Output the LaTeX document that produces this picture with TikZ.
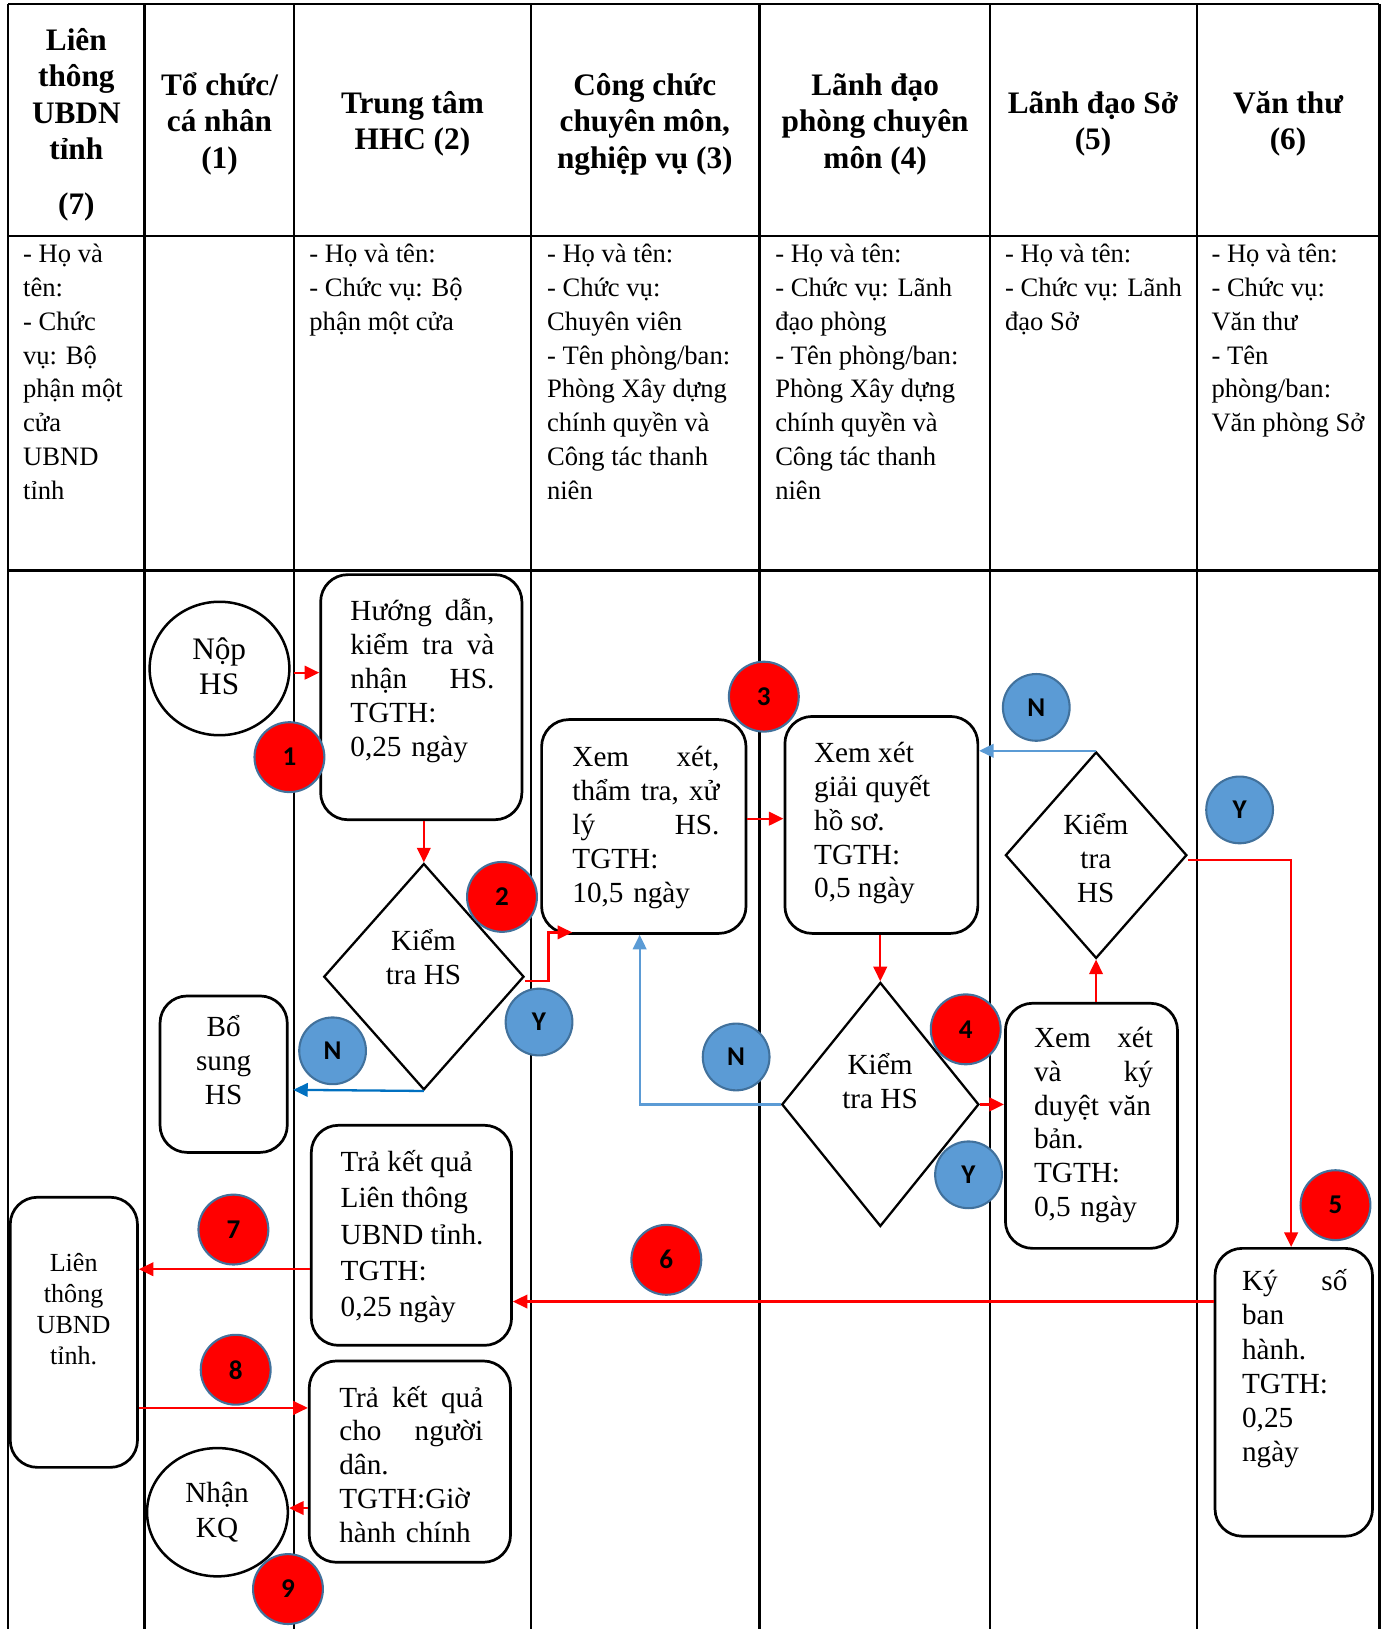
\documentclass[tikz,border=0pt]{standalone}
\usepackage{fontspec}
\setmainfont{Liberation Serif}
\newfontfamily\numfont{Carlito}
\usetikzlibrary{shapes.geometric,arrows.meta}
\definecolor{cblue}{HTML}{5B9BD5}
\definecolor{cborder}{HTML}{41719C}
\definecolor{dblue}{HTML}{0070C0}
\begin{document}
\begin{tikzpicture}[x=1pt,y=-1pt,
  tline/.style={line width=2.2pt,black},
  fbox/.style={draw,fill=white,line width=2.6pt,rounded corners=26pt,inner sep=0pt},
  dia/.style={draw,fill=white,diamond,line width=2.2pt,inner sep=0pt},
  ell/.style={draw,fill=white,ellipse,line width=2.4pt,inner sep=0pt},
  redn/.style={circle,fill=red,draw=cborder,line width=2pt,minimum size=67pt,inner sep=0pt,font=\numfont\bfseries\fontsize{26}{26}\selectfont},
  bluen/.style={circle,fill=cblue,draw=cborder,line width=2pt,minimum size=64pt,inner sep=0pt,font=\numfont\bfseries\fontsize{26}{26}\selectfont},
  rarr/.style={draw=red,line width=2.2pt,-{Triangle[length=14pt,width=13pt]}},
  barr/.style={draw=cblue,line width=2.2pt,-{Triangle[length=14pt,width=13pt]}},
  dbarr/.style={draw=dblue,line width=2.2pt,-{Triangle[length=14pt,width=13pt]}},
  htext/.style={font=\fontsize{30}{35}\selectfont\bfseries,align=center,inner sep=0pt},
  btext/.style={font=\fontsize{25.5}{32.4}\selectfont,align=left,inner sep=0pt,anchor=north west},
  ftext/.style={font=\fontsize{28}{32.5}\selectfont,align=left,inner sep=0pt},
  ctext/.style={font=\fontsize{28}{32.5}\selectfont,align=center,inner sep=0pt}]
\useasboundingbox (0,0) rectangle (1330,1562);
\begin{scope}[xshift=1.575pt,xscale=0.99475]
% table
\draw[tline] (6.4,3.8) -- (1328,3.8);
\draw[tline] (6.4,226) -- (1328,226);
\draw[tline] (6.4,547) -- (1328,547);
\foreach \x in {6.4,137.8,281.6,510,730.6,953,1152.5,1328}
  \draw[tline] (\x,3.8) -- (\x,1562);

% header
\node[htext,anchor=north] (h7) at (72,23.5) {\strut Liên\\thông\\UBDN\\tỉnh\\[17pt](7)\strut};
\node[htext] (h1) at (210,119.5) {\strut Tổ chức/\\cá nhân\\(1)\strut};
\node[htext] (h2) at (396,119) {\strut Trung tâm\\HHC (2)\strut};
\node[htext] (h3) at (620,119.5) {\strut Công chức\\chuyên môn,\\nghiệp vụ (3)\strut};
\node[htext] (h4) at (842,119.5) {\strut Lãnh đạo\\phòng chuyên\\môn (4)\strut};
\node[htext] (h5) at (1052,119) {\strut Lãnh đạo Sở\\(5)\strut};
\node[htext] (h6) at (1240,119) {\strut Văn thư\\(6)\strut};

% second row
\node[btext] (r7) at (20.5,229) {\strut - Họ và\\tên:\\- Chức\\vụ: Bộ\\phận một\\cửa\\UBND\\tỉnh\strut};
\node[btext] (r2) at (296.5,229) {\strut - Họ và tên:\\- Chức vụ: Bộ\\phận một cửa\strut};
\node[btext] (r3) at (525.5,229) {\strut - Họ và tên:\\- Chức vụ:\\Chuyên viên\\- Tên phòng/ban:\\Phòng Xây dựng\\chính quyền và\\Công tác thanh\\niên\strut};
\node[btext] (r4) at (745.5,229) {\strut - Họ và tên:\\- Chức vụ: Lãnh\\đạo phòng\\- Tên phòng/ban:\\Phòng Xây dựng\\chính quyền và\\Công tác thanh\\niên\strut};
\node[btext] (r5) at (967,229) {\strut - Họ và tên:\\- Chức vụ: Lãnh\\đạo Sở\strut};
\node[btext] (r6) at (1166,229) {\strut - Họ và tên:\\- Chức vụ:\\Văn thư\\- Tên\\phòng/ban:\\Văn phòng Sở\strut};

% shapes
\node[ell,minimum width=134,minimum height=128] (nop) at (210,641) {};
\node[fbox,minimum width=193,minimum height=235] (b1) at (404.5,668.5) {};
\node[dia,minimum width=192,minimum height=217] (d1) at (407,936.5) {};
\node[fbox,minimum width=122,minimum height=150] (bs) at (214,1030) {};
\node[fbox,minimum width=196,minimum height=205] (b3) at (619,792.5) {};
\node[fbox,minimum width=185,minimum height=208] (b4) at (848,791) {};
\node[dia,minimum width=189,minimum height=234] (d2) at (847,1059) {};
\node[fbox,minimum width=165,minimum height=235] (b5) at (1050.5,1079.5) {};
\node[dia,minimum width=174,minimum height=198] (d3) at (1055,820) {};
\node[fbox,minimum width=151,minimum height=276] (b6) at (1245.5,1335) {};
\node[fbox,minimum width=192,minimum height=211] (b7) at (395,1184.5) {};
\node[fbox,minimum width=122,minimum height=259] (b8) at (69.6,1277.5) {};
\node[fbox,minimum width=193,minimum height=193] (b9) at (393.5,1401.5) {};
\node[ell,minimum width=135,minimum height=123] (nhan) at (208,1450) {};

% texts
\node[ctext,font=\fontsize{30}{34}\selectfont] (tnop) at (209.7,642.4) {\strut Nộp\\HS\strut};
\node[ftext,text width=138,anchor=west] (t1) at (336,653.5) {\strut Hướng\hfill dẫn,\\kiểm\hfill tra\hfill và\\nhận\hfill HS.\\TGTH:\\0,25 ngày\strut};
\node[ctext] (td1) at (406.6,921) {\strut Kiểm\\tra HS\strut};
\node[ctext] (tbs) at (214,1020) {\strut Bổ\\sung\\HS\strut};
\node[ftext,text width=141,anchor=west] (t3) at (550,793.5) {\strut Xem\hfill xét,\\thẩm\hfill tra,\hfill xử\\lý\hfill HS.\\TGTH:\\10,5 ngày\strut};
\node[ftext,anchor=west] (t4) at (783,789.5) {\strut Xem xét\\giải quyết\\hồ sơ.\\TGTH:\\0,5 ngày\strut};
\node[ctext] (td2) at (846.7,1040) {\strut Kiểm\\tra HS\strut};
\node[ftext,font=\fontsize{28}{32.4}\selectfont,text width=114,anchor=west] (t5) at (995,1079) {\strut Xem\hfill xét\\và\hfill ký\\duyệt văn\\bản.\\TGTH:\\0,5 ngày\strut};
\node[ctext] (td3) at (1054.7,826) {\strut Kiểm\\tra\\HS\strut};
\node[ftext,font=\fontsize{28}{32.8}\selectfont,text width=101,anchor=west] (t6) at (1195.5,1313) {\strut Ký\hfill số\\ban\\hành.\\TGTH:\\0,25\\ngày\strut};
\node[ftext,font=\fontsize{28}{34.8}\selectfont,anchor=west] (t7) at (326.6,1186) {\strut Trả kết quả\\Liên thông\\UBND tỉnh.\\TGTH:\\0,25 ngày\strut};
\node[ctext,font=\fontsize{25}{29.7}\selectfont] (t8) at (69.4,1258) {\strut Liên\\thông\\UBND\\tỉnh.\strut};
\node[ftext,font=\fontsize{28}{32.35}\selectfont,text width=138,anchor=west] (t9) at (325.3,1407.5) {\strut Trả\hfill kết\hfill quả\\cho\hfill người\\dân.\\TGTH:Giờ\\hành chính\strut};
\node[ctext,font=\fontsize{28}{34}\selectfont] (tnhan) at (207.6,1450.6) {\strut Nhận\\KQ\strut};

% connectors
\coordinate (b3in) at (550,894);
\coordinate (n1tip) at (281,1045);
\draw[rarr] ([xshift=3pt,yshift=-4pt]nop.east) -- (b1.west |- 0,645);
\draw[rarr] (b1.south -| d1.north) -- (d1.north);
\draw[rarr] ([yshift=-4pt]d1.east) -- (527,940.5) -- (527,894) -- (b3in);
\draw[dbarr] (d1.south) -- (n1tip);
\draw[rarr] (b3.east |- 0,785) -- (b4.west |- 0,785);
\draw[rarr] (b4.south -| d2.north) -- (d2.north);
\draw[barr] (d2.west) -| (b3.south -| 615,0);
\draw[rarr] (d2.east) -- (b5.west |- d2.east);
\draw[rarr] (b5.north -| d3.south) -- (d3.south);
\draw[barr] (d3.north) -- (b4.east |- d3.north);
\draw[rarr] ([yshift=-4.5pt]d3.east) -| (b6.north -| 1243,0);
\draw[rarr] (b6.west |- 0,1248) -- (b7.east |- 0,1248);
\draw[rarr] (b7.west |- 0,1217) -- (b8.east |- 0,1217);
\draw[rarr] (b8.east |- 0,1350) -- (b9.west |- 0,1350);
\draw[rarr] (b9.west |- 0,1446) -- (nhan.east |- 0,1446);

% markers
\node[redn] (c1) at (277.4,726) {1};
\node[redn] (c2) at (482.3,860) {2};
\node[redn] (c3) at (734.7,668) {3};
\node[redn] (c4) at (929.3,987) {4};
\node[redn] (c5) at (1285.7,1155.6) {5};
\node[redn] (c6) at (640.7,1208) {6};
\node[redn] (c7) at (223.4,1179) {7};
\node[redn] (c8) at (225.6,1313.4) {8};
\node[redn] (c9) at (276,1523.7) {9};
\node[bluen] (n1) at (319,1007.6) {N};
\node[bluen] (y1) at (518,980) {Y};
\node[bluen] (n2) at (708,1013.5) {N};
\node[bluen] (y2) at (932,1126.5) {Y};
\node[bluen] (n3) at (997.3,678.3) {N};
\node[bluen] (y3) at (1193.3,776.6) {Y};
\end{scope}
\end{tikzpicture}
\end{document}
